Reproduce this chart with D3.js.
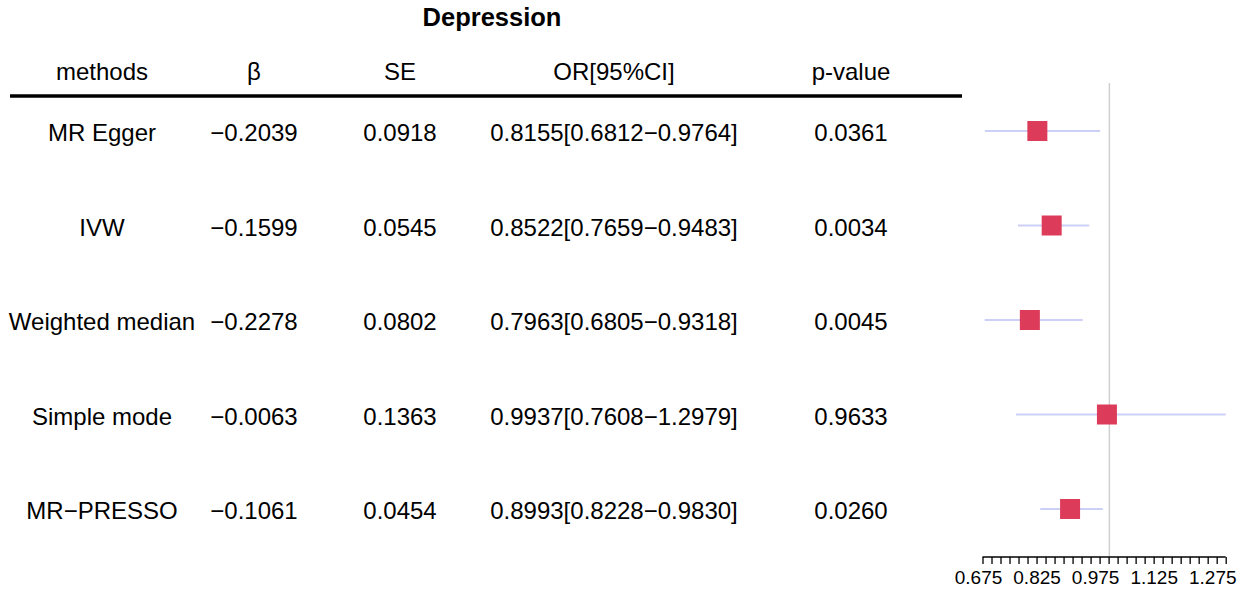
<!DOCTYPE html>
<html><head><meta charset="utf-8">
<script src="https://cdn.jsdelivr.net/npm/d3@7"></script>
<style>body{margin:0;background:#fff}svg{display:block}text{font-family:"Liberation Sans",Arial,sans-serif;fill:#000}</style>
</head><body><svg id="c" width="1245" height="591"></svg>
<script>
const title = "Depression";
const headers = ["methods", "β", "SE", "OR[95%CI]", "p-value"];
const methods = ["MR Egger", "IVW", "Weighted median", "Simple mode", "MR\u2212PRESSO"];
const beta = [-0.2039, -0.1599, -0.2278, -0.0063, -0.1061];
const se = [0.0918, 0.0545, 0.0802, 0.1363, 0.0454];
const or = [0.8155, 0.8522, 0.7963, 0.9937, 0.8993];
const lo = [0.6812, 0.7659, 0.6805, 0.7608, 0.8228];
const hi = [0.9764, 0.9483, 0.9318, 1.2979, 0.9830];
const pval = [0.0361, 0.0034, 0.0045, 0.9633, 0.0260];
const tickLabels = [0.675, 0.825, 0.975, 1.125, 1.275];
const xLimits = [0.675, 1.2979];
const minorTickCount = 28;
const refValue = 1;

const svg = d3.select("#c");
const f4 = d3.format(".4f");
const colX = [102, 254, 400, 614, 851];

svg.append("text").attr("x", 492).attr("y", 26).attr("text-anchor", "middle")
  .style("font-size", "25.5px").style("font-weight", "bold").text(title);

svg.selectAll("text.h").data(headers).join("text").attr("class", "h")
  .attr("x", (d, i) => colX[i]).attr("y", 80).attr("text-anchor", "middle")
  .style("font-size", "24px").text(d => d);

svg.append("line").attr("x1", 10).attr("x2", 962).attr("y1", 96).attr("y2", 96)
  .attr("stroke", "#000").attr("stroke-width", 3.5);

const y = d3.scalePoint().domain(methods).range([131, 509]);

const rows = methods.map((m, i) => [m, f4(beta[i]), f4(se[i]),
  f4(or[i]) + "[" + f4(lo[i]) + "\u2212" + f4(hi[i]) + "]", f4(pval[i])]);

rows.forEach((r, i) => {
  svg.selectAll(null).data(r).join("text")
    .attr("x", (d, j) => colX[j]).attr("y", y(methods[i]) + 10)
    .attr("text-anchor", "middle").style("font-size", "24px").text(d => d);
});

const x = d3.scaleLinear().domain(xLimits).range([982.5, 1225.7]);

svg.append("line").attr("x1", x(refValue)).attr("x2", x(refValue))
  .attr("y1", 83).attr("y2", 557).attr("stroke", "#cfcfcf").attr("stroke-width", 1.5);

svg.selectAll("line.ci").data(methods).join("line").attr("class", "ci")
  .attr("x1", (d, i) => x(lo[i])).attr("x2", (d, i) => x(hi[i]))
  .attr("y1", d => y(d)).attr("y2", d => y(d))
  .attr("stroke", "#cdd0f6").attr("stroke-width", 2);

const sq = 20;
svg.selectAll("rect.pt").data(methods).join("rect").attr("class", "pt")
  .attr("x", (d, i) => x(or[i]) - sq / 2).attr("y", d => y(d) - sq / 2)
  .attr("width", sq).attr("height", sq).attr("fill", "#dc3c5a");

const axisY = 557;
const minorTicks = d3.range(minorTickCount).map(i => xLimits[0] + i * (xLimits[1] - xLimits[0]) / (minorTickCount - 1));
const g = svg.append("g").attr("transform", `translate(0,${axisY})`);
const ax = d3.axisBottom(x).tickValues(minorTicks).tickFormat("").tickSizeInner(7).tickSizeOuter(0);
g.call(ax);
g.selectAll("path,line").attr("stroke", "#000").attr("stroke-width", 1.3);
g.select("path").attr("d", `M${x(xLimits[0])},0H${x(xLimits[1])}`);

svg.selectAll("text.tl").data(tickLabels).join("text").attr("class", "tl")
  .attr("x", d => x(d) - 4).attr("y", 584).attr("text-anchor", "middle")
  .style("font-size", "19px").text(d => d3.format(".3f")(d));
</script></body></html>
